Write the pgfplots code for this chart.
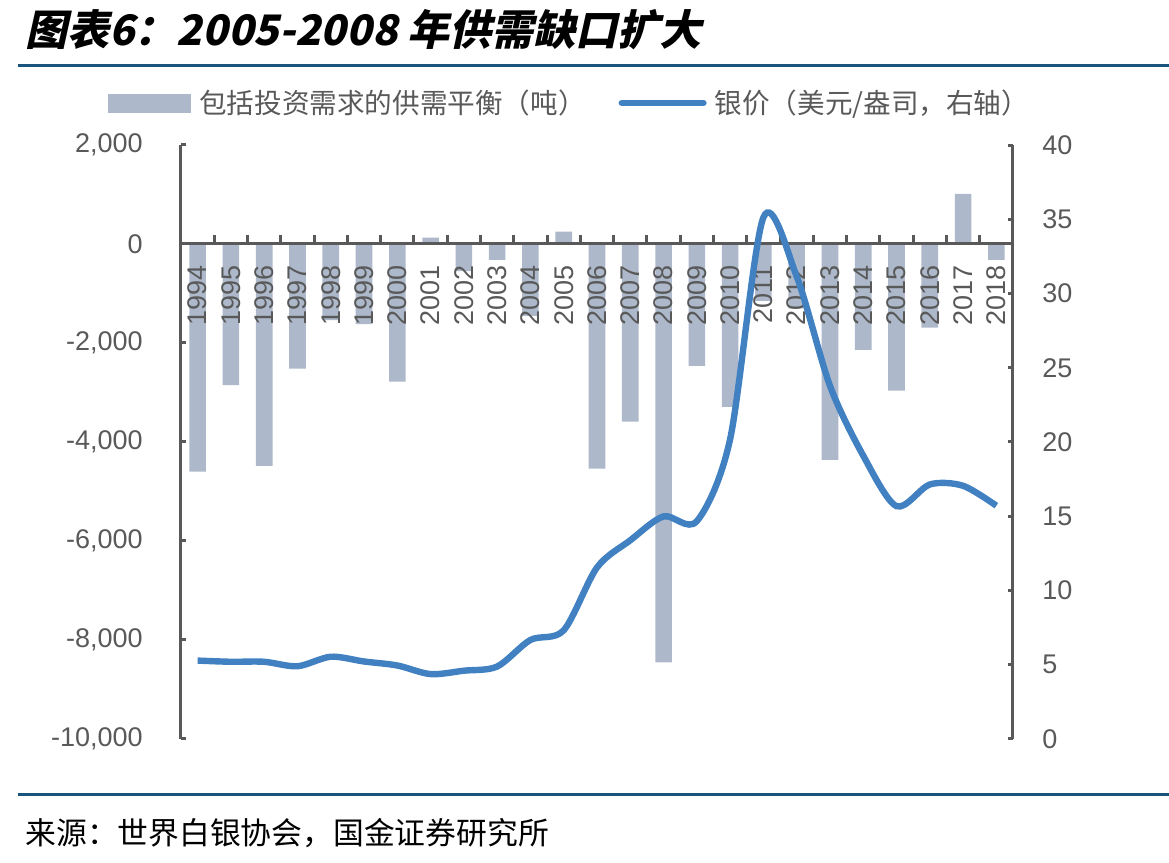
\documentclass[border=0pt]{standalone}
\usepackage{fontspec}
\usepackage{pgfplots}
\pgfplotsset{compat=1.18}
\setmainfont{Liberation Sans}
\newfontfamily\cjk{Noto Sans CJK SC}
\newfontfamily\titlefont{Noto Sans CJK SC}[FakeSlant=0.22]

\definecolor{txtgray}{RGB}{89,89,89}
\definecolor{barcol}{RGB}{173,185,202}
\definecolor{linecol}{RGB}{65,128,193}
\definecolor{rulecol}{RGB}{24,84,124}

\pgfplotsset{
  common/.style={
    at={(90.5pt,62pt)}, anchor=south west,
    scale only axis, width=416pt, height=297pt,
    xmin=-0.5, xmax=24.5,
    tick align=inside,
    major tick length=2.5pt,
    axis line style={txtgray, line width=1.5pt, -},
    tick style={txtgray, line width=1.5pt},
    ticklabel style={font=\fontsize{13.5}{15}\selectfont, text=txtgray, inner sep=0pt},
    scaled y ticks=false,
    /pgf/number format/.cd, fixed, 1000 sep={,}, assume math mode=true,
  }
}

\begin{document}
\begin{tikzpicture}
\path[use as bounding box] (0,0) rectangle (584.5pt,431.5pt);

% header and footer rules
\draw[rulecol, line width=1.5pt] (9pt,398.5pt) -- (584.5pt,398.5pt);
\draw[rulecol, line width=1.5pt] (9pt,34pt) -- (584.5pt,34pt);

\node[anchor=west, inner sep=0pt] at (12.5pt,416.5pt)
  {\titlefont\bfseries\fontsize{21}{24}\selectfont 图表6：2005-2008 年供需缺口扩大};
\node[anchor=west, inner sep=0pt] at (12.5pt,15pt)
  {\cjk\fontsize{15.4}{18}\selectfont 来源：世界白银协会，国金证券研究所};

% supply-demand balance (tonnes): bars only
\begin{axis}[common, hide axis,
  ymin=-10000, ymax=2000,
]
\addplot[ybar, bar width=8.3pt, fill=barcol, draw=none] coordinates {
  (0,-4600) (1,-2850) (2,-4480) (3,-2520) (4,-1540) (5,-1620) (6,-2780)
  (7,130) (8,-550) (9,-320) (10,-1450) (11,250) (12,-4540) (13,-3590)
  (14,-8450) (15,-2460) (16,-3290) (17,-1150) (18,-1300) (19,-4360)
  (20,-2140) (21,-2960) (22,-1690) (23,1010) (24,-320)
};
\end{axis}

% left axis and year axis, drawn over the bars
\begin{axis}[common,
  ymin=-10000, ymax=2000,
  ytick={-10000,-8000,...,2000},
  axis y line*=left,
  axis x line*=middle,
  x axis line style={-},
  xtick={0,...,24},
  xticklabels={1994,1995,1996,1997,1998,1999,2000,2001,2002,2003,2004,2005,2006,2007,2008,2009,2010,2011,2012,2013,2014,2015,2016,2017,2018},
  xticklabel style={rotate=90, anchor=east},
  xticklabel shift=10.5pt,
  yticklabel shift=19pt,
  every major x tick/.append style={draw=none},
  minor xtick={0.5,1.5,...,23.5},
  minor tick length=4.5pt,
]
\end{axis}

% silver price (USD/oz), right axis
\begin{axis}[common,
  ymin=0, ymax=40,
  ytick={0,5,...,40},
  axis y line*=right,
  axis x line=none,
  yticklabel shift=14.5pt,
  legend columns=2,
  legend cell align=left,
  legend style={draw=none, fill=none, at={(-0.0877,1.0707)}, anchor=west,
    inner sep=0pt, nodes={inner sep=0pt},
    font=\cjk\fontsize{13.8}{16}\selectfont, text=txtgray,
    /tikz/every odd column/.append style={column sep=4pt},
    /tikz/every even column/.append style={column sep=16.5pt}},
]
\addlegendimage{legend image code/.code={\fill[barcol] (0pt,-4.5pt) rectangle (41pt,4.5pt);}}
\addlegendentry{包括投资需求的供需平衡（吨）}
\addplot[linecol, line width=3.2pt, smooth, no markers,
  legend image code/.code={\draw[linecol, line width=3pt, line cap=round] (0pt,0pt) -- (41pt,0pt);}]
  coordinates {
  (0,5.28) (1,5.20) (2,5.20) (3,4.90) (4,5.54) (5,5.22) (6,4.95) (7,4.37)
  (8,4.60) (9,4.88) (10,6.67) (11,7.32) (12,11.55) (13,13.38) (14,14.99)
  (15,14.67) (16,20.19) (17,35.12) (18,31.15) (19,23.79) (20,19.08)
  (21,15.68) (22,17.14) (23,17.05) (24,15.71)
};
\addlegendentry{银价（美元/盎司，右轴）}
\end{axis}
\end{tikzpicture}
\end{document}
